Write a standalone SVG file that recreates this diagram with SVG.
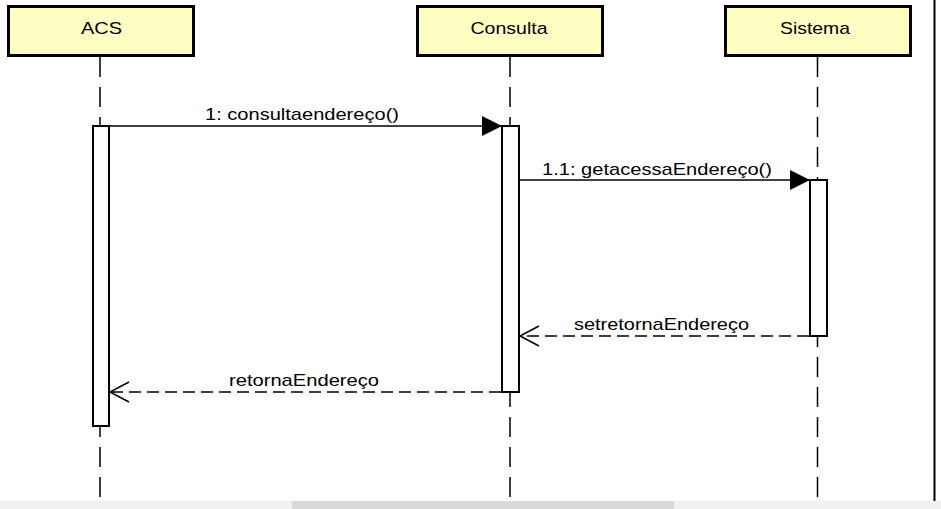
<svg xmlns="http://www.w3.org/2000/svg" width="941" height="509" viewBox="0 0 941 509">
<style>
.head{fill:#ffffc4;stroke:#000;stroke-width:3}
.life{stroke:#000;stroke-width:1.5;stroke-dasharray:20 10;fill:none}
.act{fill:#fff;stroke:#000;stroke-width:2}
.t{font-family:"Liberation Sans",Arial,sans-serif;font-size:17px;fill:#000}
.msg{stroke:#000;stroke-width:1.5;fill:none}
.ret{stroke:#000;stroke-width:1.5;fill:none;stroke-dasharray:12 6}
</style>
<defs>
<marker id="filled" markerUnits="userSpaceOnUse" markerWidth="22" markerHeight="22" refX="20" refY="10" orient="auto">
<path d="M0,0 L20,10 L0,20 Z" fill="#000" stroke="none"/>
</marker>
<marker id="open" markerUnits="userSpaceOnUse" markerWidth="22" markerHeight="24" refX="20" refY="11" orient="auto">
<path d="M1,1 L20,11 L1,21" fill="none" stroke="#000" stroke-width="1.5" stroke-dasharray="none"/>
</marker>
</defs>
<rect x="0" y="0" width="941" height="509" fill="#fff"/>
<line x1="934.5" y1="0" x2="934.5" y2="502" stroke="#000" stroke-width="2"/>

<g id="ACS">
<line class="life" x1="100" y1="57" x2="100" y2="502"/>
<rect class="head" x="8.5" y="6.5" width="185" height="49"/>
<text class="t" x="101.5" y="34" text-anchor="middle" textLength="41" lengthAdjust="spacingAndGlyphs">ACS</text>
<rect class="act" x="93" y="126" width="16" height="300"/>
</g>

<g id="Consulta">
<line class="life" x1="510" y1="57" x2="510" y2="502"/>
<rect class="head" x="417.5" y="6.5" width="185" height="49"/>
<text class="t" x="509" y="34" text-anchor="middle" textLength="77" lengthAdjust="spacingAndGlyphs">Consulta</text>
<rect class="act" x="502" y="126" width="17" height="266"/>
</g>

<g id="Sistema">
<line class="life" x1="817.5" y1="57" x2="817.5" y2="502"/>
<rect class="head" x="725.5" y="6.5" width="185" height="49"/>
<text class="t" x="815" y="34" text-anchor="middle" textLength="70" lengthAdjust="spacingAndGlyphs">Sistema</text>
<rect class="act" x="810" y="180" width="17" height="156"/>
</g>

<g id="connectors">
<line class="msg" x1="110" y1="126" x2="502" y2="126" marker-end="url(#filled)"/>
<text class="t" x="205" y="120" textLength="194" lengthAdjust="spacingAndGlyphs">1: consultaendereço()</text>
<line class="msg" x1="519" y1="180" x2="810" y2="180" marker-end="url(#filled)"/>
<text class="t" x="542" y="175" textLength="230" lengthAdjust="spacingAndGlyphs">1.1: getacessaEndereço()</text>
<line class="ret" x1="809" y1="336" x2="520" y2="336" marker-end="url(#open)"/>
<text class="t" x="574" y="330" textLength="175" lengthAdjust="spacingAndGlyphs">setretornaEndereço</text>
<line class="ret" x1="501" y1="392" x2="110" y2="392" marker-end="url(#open)"/>
<text class="t" x="229" y="386" textLength="150" lengthAdjust="spacingAndGlyphs">retornaEndereço</text>
</g>

<rect x="0" y="501" width="941" height="8" fill="#f1f1f1"/>
<rect x="292" y="501" width="382" height="8" fill="#dadada"/>
</svg>
